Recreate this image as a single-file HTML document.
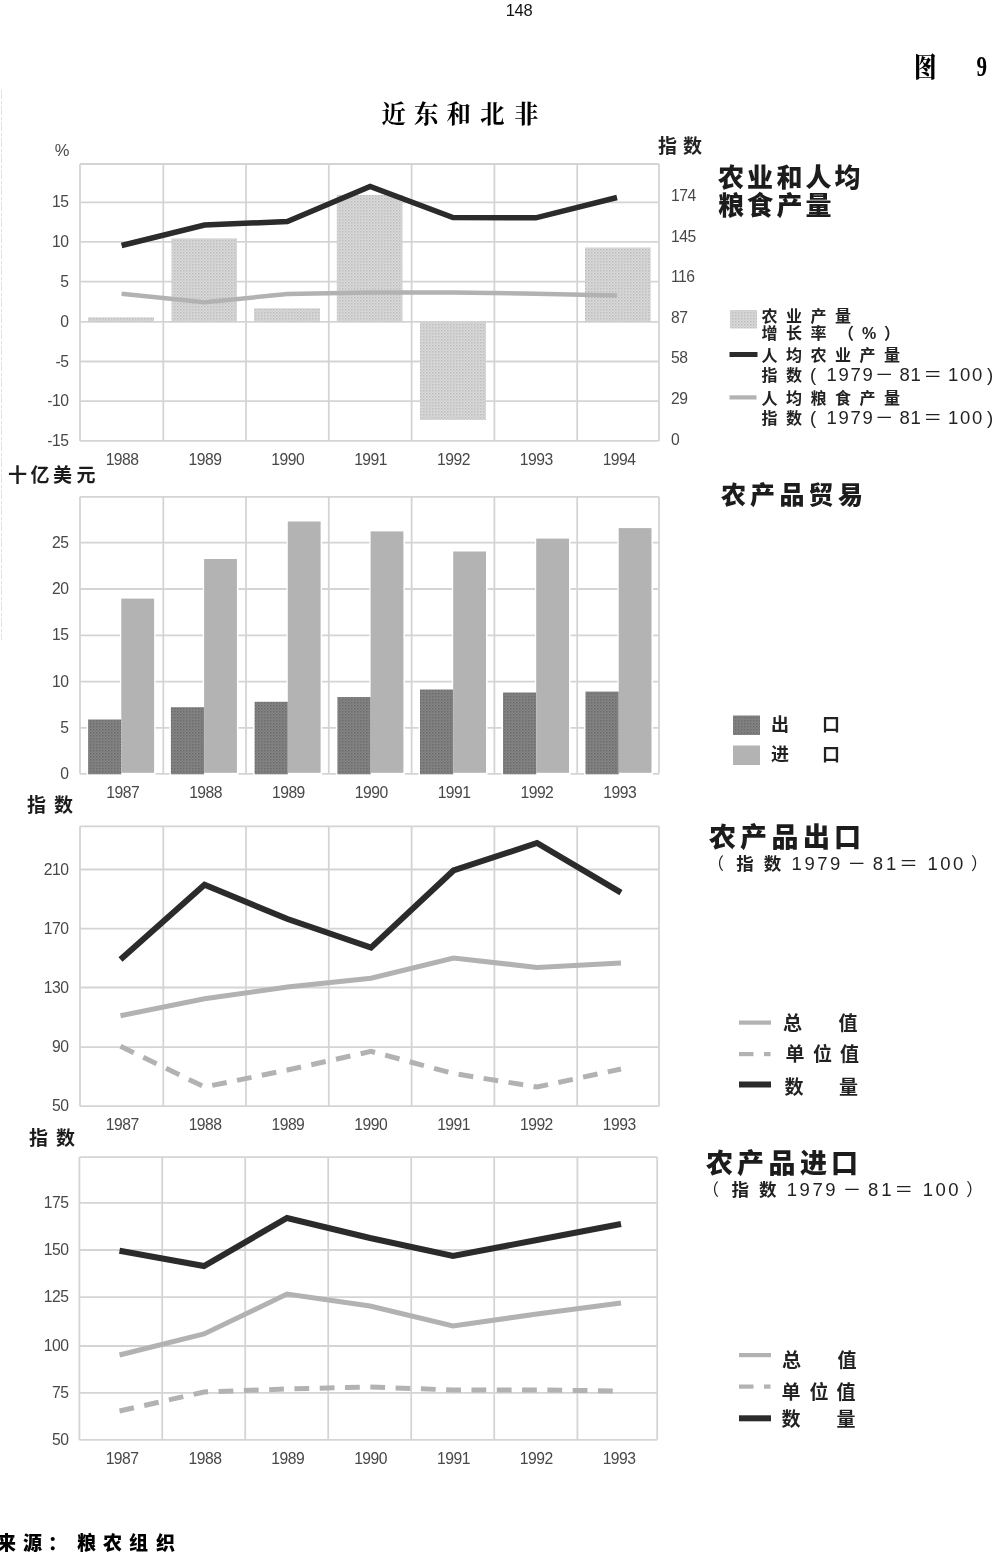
<!DOCTYPE html>
<html lang="zh-CN"><head><meta charset="utf-8"><title>图 9 近东和北非</title>
<style>html,body{margin:0;padding:0;background:#fff}body{width:1000px;height:1554px;overflow:hidden}svg{display:block;font-family:"Liberation Sans", "Noto Sans CJK SC", sans-serif}</style>
</head><body>
<svg width="1000" height="1554" viewBox="0 0 1000 1554">
<rect width="1000" height="1554" fill="#fff"/>
<defs><pattern id="st1" width="3" height="3" patternUnits="userSpaceOnUse"><rect width="3" height="3" fill="#dadada"/><rect x="0" y="0" width="1.5" height="1.5" fill="#bcbcbc"/><rect x="1.5" y="1.5" width="1.5" height="1.5" fill="#cfcfcf"/></pattern><pattern id="st2" width="3" height="3" patternUnits="userSpaceOnUse"><rect width="3" height="3" fill="#858585"/><rect x="0" y="0" width="1.5" height="1.5" fill="#6a6a6a"/><rect x="1.5" y="1.5" width="1.5" height="1.5" fill="#7c7c7c"/></pattern></defs>
<line x1="1.5" y1="90" x2="1.5" y2="640" stroke="#e2e2e2" stroke-width="1" stroke-dasharray="9 2 3 2"/>
<text x="519" y="15.5" text-anchor="middle" font-size="16.5" letter-spacing="-0.3" fill="#111">148</text>
<text x="914" y="76.5" font-size="27" font-weight="900" fill="#000" font-family='"Liberation Serif", "Noto Serif CJK SC", serif' textLength="22.5" lengthAdjust="spacingAndGlyphs">图</text>
<text x="976.5" y="75.7" font-size="30" font-weight="700" fill="#000" font-family='"Liberation Serif", "Noto Serif CJK SC", serif' textLength="10.5" lengthAdjust="spacingAndGlyphs">9</text>
<text x="381.5 414 446.5 480 514" y="122.5" font-size="24.5" font-weight="700" fill="#000" font-family='"Liberation Serif", "Noto Serif CJK SC", serif'>近东和北非</text>
<g stroke="#d4d4d4" stroke-width="1.8" fill="none"><line x1="80" y1="164" x2="658.8" y2="164"/><line x1="80" y1="202.3" x2="658.8" y2="202.3"/><line x1="80" y1="241.9" x2="658.8" y2="241.9"/><line x1="80" y1="281.6" x2="658.8" y2="281.6"/><line x1="80" y1="321.9" x2="658.8" y2="321.9"/><line x1="80" y1="361.5" x2="658.8" y2="361.5"/><line x1="80" y1="401.2" x2="658.8" y2="401.2"/><line x1="80" y1="440.8" x2="658.8" y2="440.8"/><line x1="80" y1="164" x2="80" y2="440.9"/><line x1="163.3" y1="164" x2="163.3" y2="440.9"/><line x1="246" y1="164" x2="246" y2="440.9"/><line x1="328.8" y1="164" x2="328.8" y2="440.9"/><line x1="411.6" y1="164" x2="411.6" y2="440.9"/><line x1="494.4" y1="164" x2="494.4" y2="440.9"/><line x1="577.2" y1="164" x2="577.2" y2="440.9"/><line x1="659" y1="164" x2="659" y2="440.9"/></g>
<rect x="88" y="317.3" width="66" height="4.5" fill="url(#st1)"/>
<rect x="171.5" y="238.4" width="65.5" height="83.4" fill="url(#st1)"/>
<rect x="254" y="308.3" width="66" height="13.5" fill="url(#st1)"/>
<rect x="336.8" y="195" width="65.7" height="126.8" fill="url(#st1)"/>
<rect x="420" y="321.8" width="66" height="98.2" fill="url(#st1)"/>
<rect x="585" y="247.5" width="65.7" height="74.3" fill="url(#st1)"/>
<polyline points="121.6,293.7 204.5,302.3 287.3,294 370.1,292.5 453,292.5 535.8,293.7 617,295.5" fill="none" stroke="#b2b2b2" stroke-width="4.5" stroke-linejoin="miter"/>
<polyline points="121.6,245.5 204.5,225 287.3,221.5 370.1,186.5 453,217.5 535.8,217.8 617,197.5" fill="none" stroke="#2b2b2b" stroke-width="5.5" stroke-linejoin="miter"/>
<text x="62" y="155.5" text-anchor="middle" font-size="16.5" letter-spacing="0" fill="#484848">%</text>
<text x="68.5" y="207.3" text-anchor="end" font-size="15.7" letter-spacing="-0.5" fill="#484848">15</text>
<text x="68.5" y="246.9" text-anchor="end" font-size="15.7" letter-spacing="-0.5" fill="#484848">10</text>
<text x="68.5" y="286.6" text-anchor="end" font-size="15.7" letter-spacing="-0.5" fill="#484848">5</text>
<text x="68.5" y="326.9" text-anchor="end" font-size="15.7" letter-spacing="-0.5" fill="#484848">0</text>
<text x="68.5" y="366.5" text-anchor="end" font-size="15.7" letter-spacing="-0.5" fill="#484848">-5</text>
<text x="68.5" y="406.2" text-anchor="end" font-size="15.7" letter-spacing="-0.5" fill="#484848">-10</text>
<text x="68.5" y="445.8" text-anchor="end" font-size="15.7" letter-spacing="-0.5" fill="#484848">-15</text>
<text x="671" y="201.2" text-anchor="start" font-size="15.7" letter-spacing="-0.5" fill="#484848">174</text>
<text x="671" y="241.7" text-anchor="start" font-size="15.7" letter-spacing="-0.5" fill="#484848">145</text>
<text x="671" y="282.2" text-anchor="start" font-size="15.7" letter-spacing="-0.5" fill="#484848">116</text>
<text x="671" y="322.7" text-anchor="start" font-size="15.7" letter-spacing="-0.5" fill="#484848">87</text>
<text x="671" y="363.2" text-anchor="start" font-size="15.7" letter-spacing="-0.5" fill="#484848">58</text>
<text x="671" y="403.7" text-anchor="start" font-size="15.7" letter-spacing="-0.5" fill="#484848">29</text>
<text x="671" y="444.7" text-anchor="start" font-size="15.7" letter-spacing="-0.5" fill="#484848">0</text>
<text x="122.1" y="465.2" text-anchor="middle" font-size="15.7" letter-spacing="-0.5" fill="#484848">1988</text>
<text x="205.0" y="465.2" text-anchor="middle" font-size="15.7" letter-spacing="-0.5" fill="#484848">1989</text>
<text x="287.8" y="465.2" text-anchor="middle" font-size="15.7" letter-spacing="-0.5" fill="#484848">1990</text>
<text x="370.6" y="465.2" text-anchor="middle" font-size="15.7" letter-spacing="-0.5" fill="#484848">1991</text>
<text x="453.5" y="465.2" text-anchor="middle" font-size="15.7" letter-spacing="-0.5" fill="#484848">1992</text>
<text x="536.3" y="465.2" text-anchor="middle" font-size="15.7" letter-spacing="-0.5" fill="#484848">1993</text>
<text x="619.1" y="465.2" text-anchor="middle" font-size="15.7" letter-spacing="-0.5" fill="#484848">1994</text>
<text x="658 683" y="153" font-size="19" font-weight="700" fill="#222">指数</text>
<text x="718 747 776.5 805.5 834.5" y="187" font-size="26" font-weight="900" fill="#1c1c1c">农业和人均</text>
<text x="718 747 776.5 805.5" y="215" font-size="26" font-weight="900" fill="#1c1c1c">粮食产量</text>
<rect x="730" y="310" width="27" height="18.5" fill="url(#st1)"/>
<rect x="729.5" y="352" width="28.0" height="5" fill="#2b2b2b"/>
<rect x="729.5" y="395.3" width="27.0" height="4.2" fill="#b2b2b2"/>
<text x="761.5 786 810.5 835" y="322" font-size="16" font-weight="700" fill="#222">农业产量</text>
<text x="761.5 786 810.5 838 862 884" y="339" font-size="16" font-weight="700" fill="#222">增长率（%）</text>
<text x="761.5 786 810.5 835 859.5 884" y="360.5" font-size="16" font-weight="700" fill="#222">人均农业产量</text>
<text x="761.5 786" y="381" font-size="16" font-weight="700" fill="#222">指数</text>
<text x="810 826.5 838.5 850.5 862.5 875 899.5 910.5 923.5 948 960 972 987" y="381" font-size="18.5" fill="#222">(1979－81＝100)</text>
<text x="761.5 786 810.5 835 859.5 884" y="404" font-size="16" font-weight="700" fill="#222">人均粮食产量</text>
<text x="761.5 786" y="424" font-size="16" font-weight="700" fill="#222">指数</text>
<text x="810 826.5 838.5 850.5 862.5 875 899.5 910.5 923.5 948 960 972 987" y="424" font-size="18.5" fill="#222">(1979－81＝100)</text>
<g stroke="#d4d4d4" stroke-width="1.8" fill="none"><line x1="80" y1="496.8" x2="659" y2="496.8"/><line x1="80" y1="542.6" x2="659" y2="542.6"/><line x1="80" y1="589" x2="659" y2="589"/><line x1="80" y1="635.3" x2="659" y2="635.3"/><line x1="80" y1="681.6" x2="659" y2="681.6"/><line x1="80" y1="727.9" x2="659" y2="727.9"/><line x1="80" y1="773.8" x2="659" y2="773.8"/><line x1="80" y1="496.8" x2="80" y2="773.8"/><line x1="163.3" y1="496.8" x2="163.3" y2="773.8"/><line x1="246" y1="496.8" x2="246" y2="773.8"/><line x1="328.8" y1="496.8" x2="328.8" y2="773.8"/><line x1="411.6" y1="496.8" x2="411.6" y2="773.8"/><line x1="494.4" y1="496.8" x2="494.4" y2="773.8"/><line x1="577.2" y1="496.8" x2="577.2" y2="773.8"/><line x1="659" y1="496.8" x2="659" y2="773.8"/></g>
<path d="M86.6,775 V718.0 H120.1 V597.1 H155.6 V775 Z" fill="#fff"/>
<rect x="88.1" y="719.5" width="33.2" height="54.8" fill="url(#st2)"/>
<rect x="121.3" y="598.6" width="32.8" height="174.2" fill="#b3b3b3"/>
<path d="M169.4,775 V705.7 H202.9 V557.5 H238.4 V775 Z" fill="#fff"/>
<rect x="170.9" y="707.2" width="33.2" height="67.1" fill="url(#st2)"/>
<rect x="204.10000000000002" y="559" width="32.8" height="213.8" fill="#b3b3b3"/>
<path d="M253.1,775 V700.3 H286.6 V520.0 H322.1 V775 Z" fill="#fff"/>
<rect x="254.6" y="701.8" width="33.2" height="72.5" fill="url(#st2)"/>
<rect x="287.8" y="521.5" width="32.8" height="251.3" fill="#b3b3b3"/>
<path d="M335.9,775 V695.5 H369.4 V529.9 H404.9 V775 Z" fill="#fff"/>
<rect x="337.4" y="697" width="33.2" height="77.3" fill="url(#st2)"/>
<rect x="370.59999999999997" y="531.4" width="32.8" height="241.4" fill="#b3b3b3"/>
<path d="M418.5,775 V688.0 H452 V550.0 H487.5 V775 Z" fill="#fff"/>
<rect x="420" y="689.5" width="33.2" height="84.8" fill="url(#st2)"/>
<rect x="453.2" y="551.5" width="32.8" height="221.3" fill="#b3b3b3"/>
<path d="M501.5,775 V691.0 H535 V537.1 H570.5 V775 Z" fill="#fff"/>
<rect x="503" y="692.5" width="33.2" height="81.8" fill="url(#st2)"/>
<rect x="536.2" y="538.6" width="32.8" height="234.2" fill="#b3b3b3"/>
<path d="M584.0,775 V690.1 H617.5 V526.6 H653.0 V775 Z" fill="#fff"/>
<rect x="585.5" y="691.6" width="33.2" height="82.7" fill="url(#st2)"/>
<rect x="618.7" y="528.1" width="32.8" height="244.7" fill="#b3b3b3"/>
<text x="68.5" y="547.6" text-anchor="end" font-size="15.7" letter-spacing="-0.5" fill="#484848">25</text>
<text x="68.5" y="594" text-anchor="end" font-size="15.7" letter-spacing="-0.5" fill="#484848">20</text>
<text x="68.5" y="640.3" text-anchor="end" font-size="15.7" letter-spacing="-0.5" fill="#484848">15</text>
<text x="68.5" y="686.6" text-anchor="end" font-size="15.7" letter-spacing="-0.5" fill="#484848">10</text>
<text x="68.5" y="732.9" text-anchor="end" font-size="15.7" letter-spacing="-0.5" fill="#484848">5</text>
<text x="68.5" y="778.8" text-anchor="end" font-size="15.7" letter-spacing="-0.5" fill="#484848">0</text>
<text x="122.69999999999999" y="798" text-anchor="middle" font-size="15.7" letter-spacing="-0.5" fill="#484848">1987</text>
<text x="205.6" y="798" text-anchor="middle" font-size="15.7" letter-spacing="-0.5" fill="#484848">1988</text>
<text x="288.40000000000003" y="798" text-anchor="middle" font-size="15.7" letter-spacing="-0.5" fill="#484848">1989</text>
<text x="371.20000000000005" y="798" text-anchor="middle" font-size="15.7" letter-spacing="-0.5" fill="#484848">1990</text>
<text x="454.1" y="798" text-anchor="middle" font-size="15.7" letter-spacing="-0.5" fill="#484848">1991</text>
<text x="536.9" y="798" text-anchor="middle" font-size="15.7" letter-spacing="-0.5" fill="#484848">1992</text>
<text x="619.7" y="798" text-anchor="middle" font-size="15.7" letter-spacing="-0.5" fill="#484848">1993</text>
<text x="8 30.5 53 76.5" y="482" font-size="19" font-weight="700" fill="#1c1c1c">十亿美元</text>
<text x="721 750 779.5 808.5 838" y="504" font-size="25" font-weight="900" fill="#1c1c1c">农产品贸易</text>
<rect x="733" y="715.5" width="27" height="19.5" fill="url(#st2)"/>
<rect x="733" y="745.5" width="27" height="19.5" fill="#b3b3b3"/>
<text x="771 822" y="731" font-size="18" font-weight="700" fill="#222">出口</text>
<text x="771 822" y="760.5" font-size="18" font-weight="700" fill="#222">进口</text>
<g stroke="#d4d4d4" stroke-width="1.8" fill="none"><line x1="80" y1="826.3" x2="659" y2="826.3"/><line x1="80" y1="869.5" x2="659" y2="869.5"/><line x1="80" y1="928.6" x2="659" y2="928.6"/><line x1="80" y1="987.5" x2="659" y2="987.5"/><line x1="80" y1="1047.2" x2="659" y2="1047.2"/><line x1="80" y1="1106.2" x2="659" y2="1106.2"/><line x1="80" y1="826.3" x2="80" y2="1106.2"/><line x1="163.3" y1="826.3" x2="163.3" y2="1106.2"/><line x1="246" y1="826.3" x2="246" y2="1106.2"/><line x1="328.8" y1="826.3" x2="328.8" y2="1106.2"/><line x1="411.6" y1="826.3" x2="411.6" y2="1106.2"/><line x1="494.4" y1="826.3" x2="494.4" y2="1106.2"/><line x1="577.2" y1="826.3" x2="577.2" y2="1106.2"/><line x1="659" y1="826.3" x2="659" y2="1106.2"/></g>
<polyline points="120.5,1015.7 204.5,998.7 287.5,987 371,978.3 453.5,958 537,967.4 621,963" fill="none" stroke="#b2b2b2" stroke-width="5" stroke-linejoin="miter"/>
<polyline points="120.5,1046.3 204.5,1087 287.5,1070 371,1051.4 453.5,1073.5 537,1087 621,1069" fill="none" stroke="#b2b2b2" stroke-width="5" stroke-linejoin="miter" stroke-dasharray="14.8 10.5"/>
<polyline points="120.5,959.6 204.5,884.8 287.5,919 371,947.7 453.5,870.5 537,843 621,892.6" fill="none" stroke="#2b2b2b" stroke-width="6" stroke-linejoin="miter"/>
<text x="68.5" y="874.5" text-anchor="end" font-size="15.7" letter-spacing="-0.5" fill="#484848">210</text>
<text x="68.5" y="933.6" text-anchor="end" font-size="15.7" letter-spacing="-0.5" fill="#484848">170</text>
<text x="68.5" y="992.5" text-anchor="end" font-size="15.7" letter-spacing="-0.5" fill="#484848">130</text>
<text x="68.5" y="1052.2" text-anchor="end" font-size="15.7" letter-spacing="-0.5" fill="#484848">90</text>
<text x="68.5" y="1111.2" text-anchor="end" font-size="15.7" letter-spacing="-0.5" fill="#484848">50</text>
<text x="122.19999999999999" y="1130" text-anchor="middle" font-size="15.7" letter-spacing="-0.5" fill="#484848">1987</text>
<text x="205.1" y="1130" text-anchor="middle" font-size="15.7" letter-spacing="-0.5" fill="#484848">1988</text>
<text x="287.90000000000003" y="1130" text-anchor="middle" font-size="15.7" letter-spacing="-0.5" fill="#484848">1989</text>
<text x="370.70000000000005" y="1130" text-anchor="middle" font-size="15.7" letter-spacing="-0.5" fill="#484848">1990</text>
<text x="453.6" y="1130" text-anchor="middle" font-size="15.7" letter-spacing="-0.5" fill="#484848">1991</text>
<text x="536.4" y="1130" text-anchor="middle" font-size="15.7" letter-spacing="-0.5" fill="#484848">1992</text>
<text x="619.2" y="1130" text-anchor="middle" font-size="15.7" letter-spacing="-0.5" fill="#484848">1993</text>
<text x="27 54" y="811.5" font-size="19" font-weight="700" fill="#1c1c1c">指数</text>
<text x="709 740 771.5 803 834" y="847" font-size="27" font-weight="900" fill="#1c1c1c">农产品出口</text>
<text x="707.4 736.2 763.7 791.6 804.4 817.2 830 847.6 872.7 886 899.3 927.5 940.3 953 971" y="869.5" font-size="18.5" fill="#222"><tspan font-size="16.5">（</tspan><tspan font-size="17.5" font-weight="700">指数</tspan>1979－81＝100<tspan font-size="17">）</tspan></text>
<rect x="739" y="1020.5" width="32" height="4.2" fill="#b2b2b2"/>
<rect x="739" y="1052.0" width="14.5" height="4.2" fill="#b2b2b2"/>
<rect x="764" y="1052.0" width="6.5" height="4.2" fill="#b2b2b2"/>
<rect x="739" y="1081.5" width="32" height="6.0" fill="#2b2b2b"/>
<text x="783 838.5" y="1029.5" font-size="19" font-weight="700" fill="#222">总值</text>
<text x="785.5 813 840" y="1060.5" font-size="19" font-weight="700" fill="#222">单位值</text>
<text x="784.5 839" y="1093.5" font-size="19" font-weight="700" fill="#222">数量</text>
<g stroke="#d4d4d4" stroke-width="1.8" fill="none"><line x1="79.4" y1="1157.2" x2="657.2" y2="1157.2"/><line x1="79.4" y1="1202.8" x2="657.2" y2="1202.8"/><line x1="79.4" y1="1250" x2="657.2" y2="1250"/><line x1="79.4" y1="1297.2" x2="657.2" y2="1297.2"/><line x1="79.4" y1="1346" x2="657.2" y2="1346"/><line x1="79.4" y1="1392.8" x2="657.2" y2="1392.8"/><line x1="79.4" y1="1439.8" x2="657.2" y2="1439.8"/><line x1="79.4" y1="1157.2" x2="79.4" y2="1439.8"/><line x1="162.2" y1="1157.2" x2="162.2" y2="1439.8"/><line x1="245.2" y1="1157.2" x2="245.2" y2="1439.8"/><line x1="328.2" y1="1157.2" x2="328.2" y2="1439.8"/><line x1="411.2" y1="1157.2" x2="411.2" y2="1439.8"/><line x1="494.2" y1="1157.2" x2="494.2" y2="1439.8"/><line x1="577.4" y1="1157.2" x2="577.4" y2="1439.8"/><line x1="657.2" y1="1157.2" x2="657.2" y2="1439.8"/></g>
<polyline points="119.5,1355 204,1334 287,1294 370,1306 453,1326 537,1314 621,1303" fill="none" stroke="#b2b2b2" stroke-width="5" stroke-linejoin="miter"/>
<polyline points="119.5,1411 204,1392 287,1389 370,1387 453,1390 537,1390 621,1391" fill="none" stroke="#b2b2b2" stroke-width="5" stroke-linejoin="miter" stroke-dasharray="14.8 10.5"/>
<polyline points="119.5,1250.8 204,1266 287,1218 370,1238 453,1256 537,1240 621,1224" fill="none" stroke="#2b2b2b" stroke-width="6" stroke-linejoin="miter"/>
<text x="68.5" y="1207.8" text-anchor="end" font-size="15.7" letter-spacing="-0.5" fill="#484848">175</text>
<text x="68.5" y="1255" text-anchor="end" font-size="15.7" letter-spacing="-0.5" fill="#484848">150</text>
<text x="68.5" y="1302.2" text-anchor="end" font-size="15.7" letter-spacing="-0.5" fill="#484848">125</text>
<text x="68.5" y="1351" text-anchor="end" font-size="15.7" letter-spacing="-0.5" fill="#484848">100</text>
<text x="68.5" y="1397.8" text-anchor="end" font-size="15.7" letter-spacing="-0.5" fill="#484848">75</text>
<text x="68.5" y="1444.8" text-anchor="end" font-size="15.7" letter-spacing="-0.5" fill="#484848">50</text>
<text x="122.1" y="1464" text-anchor="middle" font-size="15.7" letter-spacing="-0.5" fill="#484848">1987</text>
<text x="205.0" y="1464" text-anchor="middle" font-size="15.7" letter-spacing="-0.5" fill="#484848">1988</text>
<text x="287.8" y="1464" text-anchor="middle" font-size="15.7" letter-spacing="-0.5" fill="#484848">1989</text>
<text x="370.6" y="1464" text-anchor="middle" font-size="15.7" letter-spacing="-0.5" fill="#484848">1990</text>
<text x="453.5" y="1464" text-anchor="middle" font-size="15.7" letter-spacing="-0.5" fill="#484848">1991</text>
<text x="536.3" y="1464" text-anchor="middle" font-size="15.7" letter-spacing="-0.5" fill="#484848">1992</text>
<text x="619.1" y="1464" text-anchor="middle" font-size="15.7" letter-spacing="-0.5" fill="#484848">1993</text>
<text x="29 56" y="1145" font-size="19" font-weight="700" fill="#1c1c1c">指数</text>
<text x="706 737 768.5 800 831" y="1173" font-size="27" font-weight="900" fill="#1c1c1c">农产品进口</text>
<text x="702.6 731.4 758.9 786.8 799.6 812.4 825.2 842.8 867.9 881.2 894.5 922.7 935.5 948.2 966.2" y="1195.5" font-size="18.5" fill="#222"><tspan font-size="16.5">（</tspan><tspan font-size="17.5" font-weight="700">指数</tspan>1979－81＝100<tspan font-size="17">）</tspan></text>
<rect x="739" y="1353" width="32" height="4.2" fill="#b2b2b2"/>
<rect x="739" y="1384.5" width="14.5" height="4.2" fill="#b2b2b2"/>
<rect x="764" y="1384.5" width="6.5" height="4.2" fill="#b2b2b2"/>
<rect x="739" y="1415.3" width="32" height="6.0" fill="#2b2b2b"/>
<text x="782 837.5" y="1366.7" font-size="19" font-weight="700" fill="#222">总值</text>
<text x="781.5 809.5 836.5" y="1399" font-size="19" font-weight="700" fill="#222">单位值</text>
<text x="781.5 836.5" y="1426.3" font-size="19" font-weight="700" fill="#222">数量</text>
<text x="-3 23 48 77 103 129 156" y="1550" font-size="19" font-weight="900" fill="#000">来源：粮农组织</text>
</svg></body></html>
